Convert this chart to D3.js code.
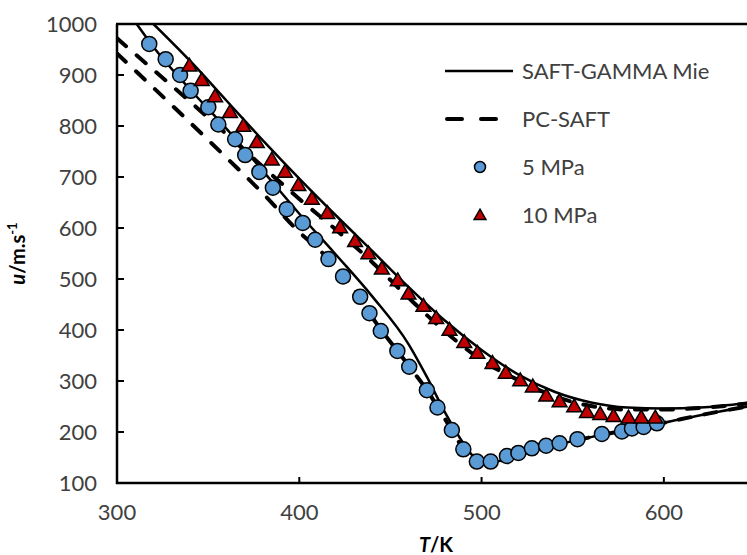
<!DOCTYPE html>
<html lang="en">
<head>
    <meta charset="UTF-8">
    <title>Speed of sound vs temperature</title>
    <script src="https://d3js.org/d3.v7.min.js" charset="utf-8"></script>
    <style>
        body { margin: 0; background: white; }
        svg { display: block; font-family: 'Lato', 'Noto Sans', sans-serif; }
        .tick-label { font-size: 22px; fill: #404040; }
        .legend-text { font-size: 22px; fill: #404040; }
        .axis-title { font-size: 20px; font-weight: bold; fill: #000; }
    </style>
</head>
<body>
<script>
// Experimental data, 5 MPa (circles)
var t5 = [317.7, 326.7, 334.6, 340.4, 350.1, 355.6, 364.8, 370.3, 378.1, 385.5, 393.1, 401.9, 408.7, 416, 424, 433.4, 438.5, 444.7, 453.8, 460.3, 470, 475.8, 483.7, 490, 497.4, 505, 513.9, 520.2, 527.6, 535.4, 542.8, 552.6, 566, 577, 582.5, 588.9, 596.2];
var u5 = [961, 931, 900, 869, 837, 803, 774, 743, 710, 679, 637, 610, 577, 539, 505, 465, 433, 398, 359, 328, 282, 248, 204, 166, 142, 142, 153, 159, 168, 173, 178, 186, 196, 201, 207, 210, 217];

// Experimental data, 10 MPa (triangles)
var t10 = [339.7, 346.5, 353.8, 362, 369.3, 376.7, 384.9, 392.2, 399.5, 406.9, 415.4, 422.4, 430.6, 437.9, 445.3, 454, 459.9, 468.1, 475.1, 482.4, 490.5, 497.7, 506, 513.3, 521.2, 528.1, 535.5, 542.8, 550.8, 557.8, 565.1, 572.4, 580.6, 587.6, 595.3];
var u10 = [916, 888, 856, 825, 798, 766, 732, 708, 682, 655, 627, 599, 572, 548, 518, 495, 469, 445, 421, 398, 374, 353, 333, 314, 299, 287, 269, 258, 248, 237, 233, 229, 226, 226, 226];

// SAFT-GAMMA Mie curves
var gammaT5 = [310.8, 320, 340, 360, 380, 400, 420, 440, 460, 470, 480, 490, 495, 500, 505, 520, 540, 560, 580, 600, 620, 646];
var gammaU5 = [1000, 955, 872, 795, 712, 628, 548, 466, 372, 308, 238, 178, 154, 140, 140, 156, 174, 190, 204, 218, 233, 250];
var gammaT10 = [320, 340, 360, 380, 400, 420, 440, 460, 480, 500, 520, 540, 560, 580, 600, 620, 646];
var gammaU10 = [1000, 928, 850, 772, 697, 625, 555, 484, 418, 361, 313, 279, 258, 248, 246, 248, 257];

// PC-SAFT curves
var pcT5 = [300, 320, 340, 360, 380, 400, 410, 420, 430, 440, 460, 470, 480, 490, 497, 505, 520, 540, 560, 580, 600, 620, 646];
var pcU5 = [942, 875, 807, 738, 668, 592, 560, 526, 480, 425, 330, 282, 225, 168, 143, 140, 156, 174, 190, 204, 218, 233, 250];
var pcT10 = [300, 320, 340, 360, 380, 400, 420, 440, 460, 480, 500, 520, 540, 560, 580, 600, 620, 646];
var pcU10 = [972, 910, 848, 784, 720, 657, 597, 533, 463, 397, 341, 302, 270, 251, 244, 244, 247, 256];

var xTicks = [300, 400, 500, 600];
var yTicks = [100, 200, 300, 400, 500, 600, 700, 800, 900, 1000];

var svgWidth = 747, svgHeight = 555;
var plotLeft = 117, plotTop = 24, plotBottom = 483, plotRight = 755;

var svg = d3.select('body').append('svg')
    .attr('width', svgWidth)
    .attr('height', svgHeight);

var x = d3.scaleLinear().domain([300, 650]).range([plotLeft, plotRight]);
var y = d3.scaleLinear().domain([100, 1000]).range([plotBottom, plotTop]);

svg.append('clipPath').attr('id', 'plot-clip')
    .append('rect')
    .attr('x', plotLeft).attr('y', plotTop)
    .attr('width', plotRight - plotLeft).attr('height', plotBottom - plotTop);

var plot = svg.append('g').attr('clip-path', 'url(#plot-clip)');

var line = d3.line()
    .x(d => x(d[0]))
    .y(d => y(d[1]))
    .curve(d3.curveMonotoneX);

function pairs(ts, us) { return ts.map((t, i) => [t, us[i]]); }

// Dashed PC-SAFT lines
[[pcT5, pcU5], [pcT10, pcU10]].forEach(function(s) {
    plot.append('path')
        .attr('d', line(pairs(s[0], s[1])))
        .attr('fill', 'none')
        .attr('stroke', '#000')
        .attr('stroke-width', 4)
        .attr('stroke-dasharray', '12,14')
        .attr('stroke-linecap', 'round');
});

// Solid SAFT-GAMMA Mie lines
[[gammaT5, gammaU5], [gammaT10, gammaU10]].forEach(function(s) {
    plot.append('path')
        .attr('d', line(pairs(s[0], s[1])))
        .attr('fill', 'none')
        .attr('stroke', '#000')
        .attr('stroke-width', 2.5);
});

// 5 MPa circles
plot.selectAll('circle.p5')
    .data(pairs(t5, u5))
    .enter().append('circle')
    .attr('class', 'p5')
    .attr('cx', d => x(d[0]))
    .attr('cy', d => y(d[1]))
    .attr('r', 7.5)
    .attr('fill', '#5B9BD5')
    .attr('stroke', '#000')
    .attr('stroke-width', 1.5);

// 10 MPa triangles
var tri = d3.symbol().type(d3.symbolTriangle).size(95);
plot.selectAll('path.p10')
    .data(pairs(t10, u10))
    .enter().append('path')
    .attr('class', 'p10')
    .attr('d', tri)
    .attr('transform', d => 'translate(' + x(d[0]) + ',' + y(d[1]) + ')')
    .attr('fill', '#C00000')
    .attr('stroke', '#000')
    .attr('stroke-width', 1.5);

// Axes
svg.append('line')
    .attr('x1', plotLeft).attr('x2', plotLeft)
    .attr('y1', plotTop).attr('y2', plotBottom + 1)
    .attr('stroke', '#000').attr('stroke-width', 2.5);
svg.append('line')
    .attr('x1', plotLeft - 1).attr('x2', svgWidth)
    .attr('y1', plotBottom).attr('y2', plotBottom)
    .attr('stroke', '#000').attr('stroke-width', 2.5);
svg.append('line')
    .attr('x1', plotLeft - 1).attr('x2', svgWidth)
    .attr('y1', plotTop).attr('y2', plotTop)
    .attr('stroke', '#000').attr('stroke-width', 2.5);

// Y ticks (inside) and labels
yTicks.forEach(function(v) {
    if (v > 100 && v < 1000) {
        svg.append('line')
            .attr('x1', plotLeft).attr('x2', plotLeft + 7)
            .attr('y1', y(v)).attr('y2', y(v))
            .attr('stroke', '#000').attr('stroke-width', 2);
    }
    svg.append('text')
        .attr('class', 'tick-label')
        .attr('x', 97)
        .attr('y', y(v))
        .attr('dy', '0.36em')
        .attr('text-anchor', 'end')
        .text(v);
});

// X ticks (inside) and labels
xTicks.forEach(function(v) {
    if (v > 300) {
        svg.append('line')
            .attr('x1', x(v)).attr('x2', x(v))
            .attr('y1', plotBottom).attr('y2', plotBottom - 6)
            .attr('stroke', '#000').attr('stroke-width', 2);
    }
    svg.append('text')
        .attr('class', 'tick-label')
        .attr('x', x(v))
        .attr('y', 520)
        .attr('text-anchor', 'middle')
        .text(v);
});

// Axis titles
var xt = svg.append('text')
    .attr('class', 'axis-title')
    .attr('x', (plotLeft + plotRight) / 2)
    .attr('y', 552)
    .attr('text-anchor', 'middle');
xt.append('tspan').style('font-style', 'italic').text('T');
xt.append('tspan').text('/K');

var yt = svg.append('text')
    .attr('class', 'axis-title')
    .attr('transform', 'translate(25,' + ((plotTop + plotBottom) / 2) + ') rotate(-90)')
    .attr('text-anchor', 'middle');
yt.append('tspan').style('font-style', 'italic').text('u');
yt.append('tspan').text('/m.s');
yt.append('tspan').attr('dy', -8).style('font-size', '13px').text('-1');

// Legend
var legendItems = ['SAFT-GAMMA Mie', 'PC-SAFT', '5 MPa', '10 MPa'];
var legendY = [71, 119, 167, 215];
var lg = svg.append('g');

lg.append('line')
    .attr('x1', 445).attr('x2', 513)
    .attr('y1', legendY[0]).attr('y2', legendY[0])
    .attr('stroke', '#000').attr('stroke-width', 2.5);
lg.append('line')
    .attr('x1', 447).attr('x2', 511)
    .attr('y1', legendY[1]).attr('y2', legendY[1])
    .attr('stroke', '#000').attr('stroke-width', 4)
    .attr('stroke-dasharray', '15,19')
    .attr('stroke-linecap', 'round');
lg.append('circle')
    .attr('cx', 480).attr('cy', legendY[2]).attr('r', 5.5)
    .attr('fill', '#5B9BD5').attr('stroke', '#000').attr('stroke-width', 1.5);
lg.append('path')
    .attr('d', d3.symbol().type(d3.symbolTriangle).size(60)())
    .attr('transform', 'translate(480,' + (legendY[3] + 1) + ')')
    .attr('fill', '#C00000').attr('stroke', '#000').attr('stroke-width', 1.5);

legendItems.forEach(function(name, i) {
    lg.append('text')
        .attr('class', 'legend-text')
        .attr('x', 522)
        .attr('y', legendY[i] + 8)
        .text(name);
});
</script>
</body>
</html>
